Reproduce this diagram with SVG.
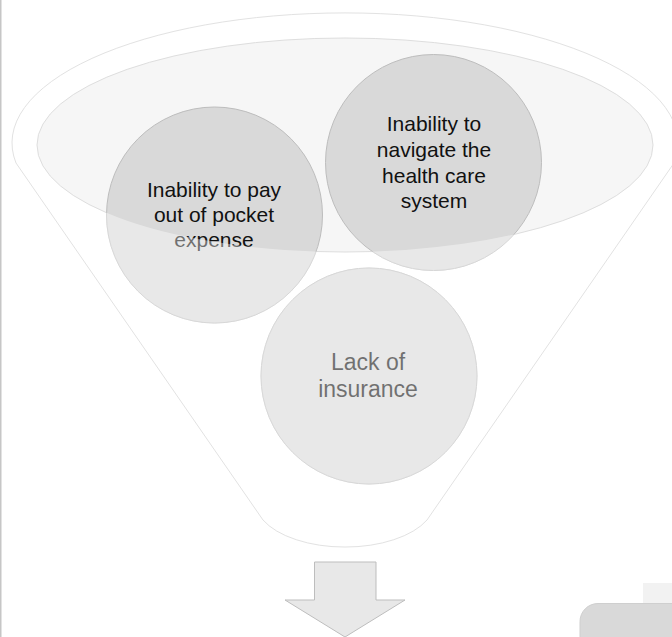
<svg xmlns="http://www.w3.org/2000/svg" width="672" height="637" viewBox="0 0 672 637">
  <style>
    .node { fill: #d9d9d9; stroke: #bdbdbd; stroke-width: 1; }
    .fade { fill: #ffffff; fill-opacity: 0.4; stroke: none; }
    .lbl { font-family: "Liberation Sans", Arial, sans-serif; fill: #111111; text-anchor: middle; }
  </style>
  <defs>
    <clipPath id="outsideTop">
      <path clip-rule="evenodd" d="M0,0H672V637H0Z M37,145 A308,107 0 1,0 653,145 A308,107 0 1,0 37,145Z"/>
    </clipPath>
  </defs>
  <rect x="0" y="0" width="672" height="637" fill="#ffffff"/>
  <rect x="0" y="0" width="1.5" height="637" fill="#c6c6c6"/>

  <g id="funnel">
    <path d="M16,163 L263,520 A90,46 0 0,0 427,520 L674,163 A333,130 0 1,0 16,163 Z" fill="#ffffff" stroke="#e2e2e2" stroke-width="1"/>
    <ellipse cx="345" cy="145" rx="308" ry="107" fill="#f6f6f6" stroke="#dedede" stroke-width="1"/>
  </g>

  <g id="node-pay">
    <circle class="node" cx="214.5" cy="215" r="108"/>
    <text class="lbl" font-size="21" x="214" y="197">Inability to pay</text>
    <text class="lbl" font-size="21" x="214" y="222">out of pocket</text>
    <text class="lbl" font-size="21" x="214" y="247">expense</text>
    <circle class="fade" cx="214.5" cy="215" r="108.6" clip-path="url(#outsideTop)"/>
  </g>

  <g id="node-navigate">
    <circle class="node" cx="433.5" cy="162.5" r="108"/>
    <text class="lbl" font-size="21" x="434" y="131">Inability to</text>
    <text class="lbl" font-size="21" x="434" y="157">navigate the</text>
    <text class="lbl" font-size="21" x="434" y="183">health care</text>
    <text class="lbl" font-size="21" x="434" y="208">system</text>
    <circle class="fade" cx="433.5" cy="162.5" r="108.6" clip-path="url(#outsideTop)"/>
  </g>

  <g id="node-insurance">
    <circle class="node" cx="369" cy="376" r="108"/>
    <text class="lbl" font-size="23" x="368" y="370">Lack of</text>
    <text class="lbl" font-size="23" x="368" y="397">insurance</text>
    <circle class="fade" cx="369" cy="376" r="108.6" clip-path="url(#outsideTop)"/>
  </g>

  <g id="connectors">
    <polygon points="314.5,562 376,562 376,600 405,600 345,637 285,600 314.5,600" fill="#e8e8e8" stroke="#bdbdbd" stroke-width="1"/>
  </g>

  <g id="next-shape">
    <rect x="643" y="583" width="40" height="40" fill="#f2f2f2"/>
    <rect x="580" y="603.5" width="150" height="80" rx="18" ry="18" fill="#d9d9d9" stroke="#cfcfcf" stroke-width="1"/>
  </g>
</svg>
